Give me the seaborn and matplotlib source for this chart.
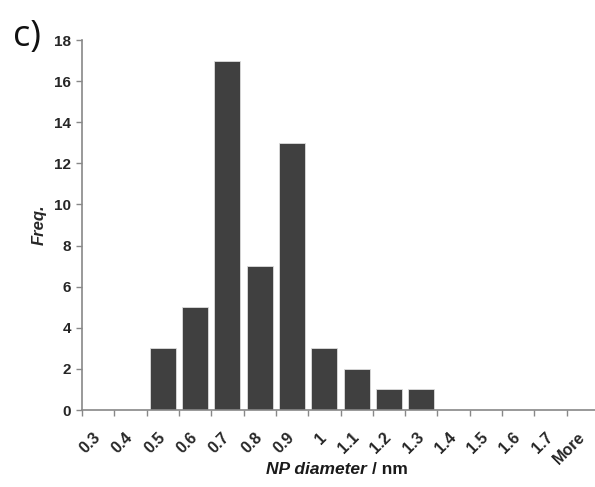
import matplotlib
matplotlib.use("Agg")
import matplotlib.pyplot as plt
import seaborn as sns
import pandas as pd
import numpy as np
from matplotlib.offsetbox import TextArea, HPacker, AnchoredOffsetbox

categories = ["0.3", "0.4", "0.5", "0.6", "0.7", "0.8", "0.9", "1", "1.1", "1.2", "1.3", "1.4", "1.5", "1.6", "1.7", "More"]
freq = [0, 0, 3, 5, 17, 7, 13, 3, 2, 1, 1, 0, 0, 0, 0, 0]
y_ticks = [0, 2, 4, 6, 8, 10, 12, 14, 16, 18]

sns.set_theme(style="white")
plt.rcParams['font.family'] = ['Liberation Sans', 'DejaVu Sans']

df = pd.DataFrame({"cat": categories, "freq": freq})

fig = plt.figure(figsize=(5.95, 4.87), dpi=100)
# axis runs from x=82 px to ~599 px (slightly past the right edge)
ax = fig.add_axes([82 / 595, 1 - 410 / 487, (599 - 82) / 595, (410 - 40) / 487])
sns.barplot(data=df, x="cat", y="freq", color="#404040", width=0.8,
            edgecolor="#dddddd", linewidth=0.6, saturation=1, ax=ax)

n = len(categories)
ax.set_xlim(-0.5, n - 0.5)
ax.set_ylim(0, 18)
ax.set_yticks(y_ticks)
ax.set_yticklabels([str(t) for t in y_ticks], fontweight="bold", fontsize=11)
ax.set_xticks(np.arange(n))
ax.set_xticklabels(categories, rotation=45, ha="right", va="center", rotation_mode="anchor",
                   fontweight="bold", fontsize=11.5)
ax.set_xticks(np.arange(n + 1) - 0.5, minor=True)
ax.tick_params(axis="x", which="major", length=0, pad=18)
ax.tick_params(axis="x", which="minor", length=4, width=1, color="#888888", direction="out", bottom=True)
ax.tick_params(axis="y", which="major", length=4, width=1, color="#888888", direction="out", left=True, pad=4)

for s in ["top", "right"]:
    ax.spines[s].set_visible(False)
for s in ["left", "bottom"]:
    ax.spines[s].set_color("#888888")
    ax.spines[s].set_linewidth(1.2)

ax.set_ylabel("Freq.", fontstyle="italic", fontweight="bold", fontsize=12, labelpad=5)
ax.set_xlabel("")

lbl_font = dict(fontsize=12.5, fontweight="bold", color="#1a1a1a", family=["Liberation Sans", "DejaVu Sans"])
t1 = TextArea("NP diameter", textprops=dict(fontstyle="italic", **lbl_font))
t2 = TextArea("/ nm", textprops=dict(fontstyle="normal", **lbl_font))
box = HPacker(children=[t1, t2], align="baseline", pad=0, sep=4)
anch = AnchoredOffsetbox(loc="center", child=box, frameon=False, pad=0,
                         bbox_to_anchor=(337 / 595, 1 - 469 / 487),
                         bbox_transform=fig.transFigure, borderpad=0)
fig.add_artist(anch)

fig.text(13 / 595, 1 - 46 / 487, "c)", fontsize=26, va="baseline",
         family=["Open Sans", "DejaVu Sans"], color="#111111")

fig.savefig("out.png", dpi=100, facecolor="white")
